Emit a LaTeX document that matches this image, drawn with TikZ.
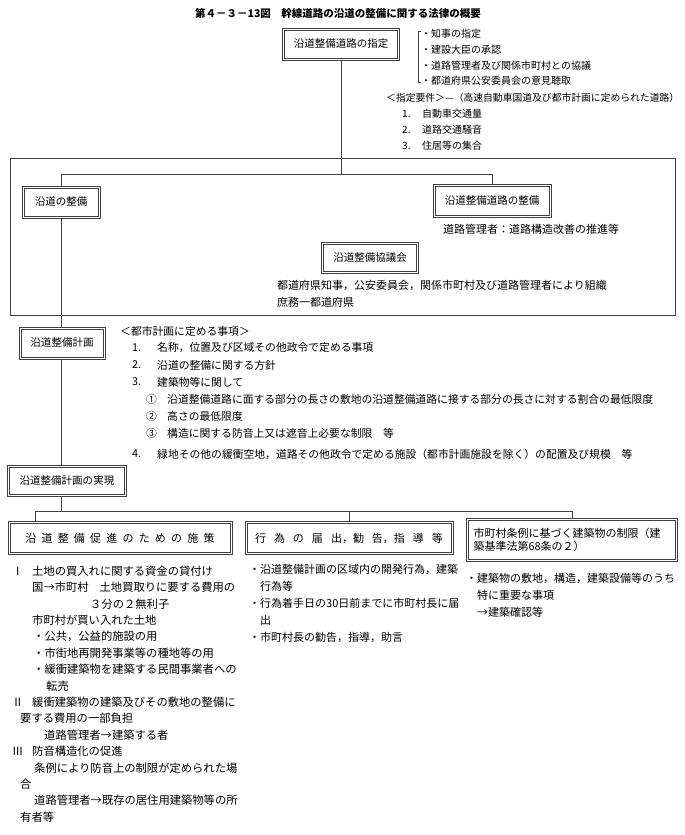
\documentclass[tikz,border=0pt]{standalone}
\usepackage{fontspec}
\setmainfont{Noto Sans CJK JP}
\newcommand\fsz[1]{\fontsize{#1}{#1}\selectfont}
\newcommand\gapj{\hspace{5.2pt}}
\newcommand\gapk{\hspace{8pt}}
\begin{document}
\begin{tikzpicture}[x=1pt,y=-1pt,
  box/.style={draw=black!75, line width=0.6pt, inner sep=0pt, font=\fsz{10.5},
    path picture={\draw[line width=0.6pt, black!75]
      ([shift={(2.2pt,-2.2pt)}]path picture bounding box.north west) rectangle
      ([shift={(-2.2pt,2.2pt)}]path picture bounding box.south east);}},
  t/.style={anchor=west, inner sep=0pt, font=\fsz{10}},
  tm/.style={anchor=west, inner sep=0pt, font=\fsz{10.8}},
  tf/.style={anchor=west, inner sep=0pt, font=\fsz{11}},
  tb/.style={anchor=west, inner sep=0pt, font=\fsz{11.3}},
  ln/.style={line width=0.6pt, draw=black!75}]
\useasboundingbox (0,0) rectangle (685,835);

% title
\node[font=\bfseries\fsz{10.5}, inner sep=0pt] (title) at (338,13) {第４－３－13図\quad 幹線道路の沿道の整備に関する法律の概要};

% top box
\node[box, minimum width=117, minimum height=32] (top) at (341,44) {沿道整備道路の指定};
\draw[ln] (421,31) -- (418,31) -- (418,82) -- (421,82);
\node[t] (b1) at (421,34) {・知事の指定};
\node[t] (b2) at (421,50) {・建設大臣の承認};
\node[t] (b3) at (421,66) {・道路管理者及び関係市町村との協議};
\node[t] (b4) at (421,81) {・都道府県公安委員会の意見聴取};
\node[t, font=\fsz{9.8}] (req) at (386,98) {＜指定要件＞—（高速自動車国道及び都市計画に定められた道路）};
\node[t] (r1n) at (402,114) {1.};
\node[t] (r1) at (422,114) {自動車交通量};
\node[t] (r2n) at (402,130) {2.};
\node[t] (r2) at (422,130) {道路交通騒音};
\node[t] (r3n) at (402,146) {3.};
\node[t] (r3) at (422,146) {住居等の集合};

% frame
\node[draw=black!75, line width=0.6pt, minimum width=665, minimum height=157, inner sep=0pt] (frame) at (342.5,236.5) {};
\coordinate (hj) at (341,174);
\node[box, minimum width=78, minimum height=32] (engan) at (61,202) {沿道の整備};
\node[box, minimum width=118, minimum height=33] (seibi) at (492,201) {沿道整備道路の整備};
\node[tf] (seibiT) at (443,229) {道路管理者：道路構造改善の推進等};
\node[box, minimum width=97, minimum height=31] (kyogi) at (370,258) {沿道整備協議会};
\node[tf] (kyogiT) at (277,285) {都道府県知事，公安委員会，関係市町村及び道路管理者により組織};
\node[tf] (shomu) at (277,302) {庶務一都道府県};
\draw[ln] (top.south) -- (hj);
\draw[ln] (engan.north) -- (engan.north |- hj) -- (seibi.north |- hj) -- (seibi.north);

% plan
\node[box, minimum width=86, minimum height=32] (keikaku) at (62,343) {沿道整備計画};
\draw[ln] (engan.south) -- (engan.south |- keikaku.north);
\node[tm] (cp) at (120,331) {＜都市計画に定める事項＞};
\node[tm] (c1n) at (132,348) {1.};
\node[tm] (c1) at (157,348) {名称，位置及び区域その他政令で定める事項};
\node[tm] (c2n) at (132,365) {2.};
\node[tm] (c2) at (157,365) {沿道の整備に関する方針};
\node[tm] (c3n) at (132,382) {3.};
\node[tm] (c3) at (157,382) {建築物等に関して};
\node[tm] (c31n) at (146,399) {①};
\node[tm] (c31) at (167,399) {沿道整備道路に面する部分の長さの敷地の沿道整備道路に接する部分の長さに対する割合の最低限度};
\node[tm] (c32n) at (146,416) {②};
\node[tm] (c32) at (167,416) {高さの最低限度};
\node[tm] (c33n) at (146,433) {③};
\node[tm] (c33) at (167,433) {構造に関する防音上又は遮音上必要な制限\quad 等};
\node[tm] (c4n) at (132,454) {4.};
\node[tm] (c4) at (157,454) {緑地その他の緩衝空地，道路その他政令で定める施設（都市計画施設を除く）の配置及び規模\quad 等};

% realization
\node[box, minimum width=119, minimum height=31] (jitsu) at (67,481) {沿道整備計画の実現};
\draw[ln] (engan.south |- keikaku.south) -- (engan.south |- jitsu.north);
\coordinate (hb) at (35,511);
\draw[ln] (engan.south |- jitsu.south) -- (engan.south |- hb);

\node[box, minimum width=224, minimum height=33, font=\fsz{11}] (shisaku) at (120,538) {沿\gapj 道\gapj 整\gapj 備\gapj 促\gapj 進\gapj の\gapj た\gapj め\gapj の\gapj 施\gapj 策};
\node[box, minimum width=208, minimum height=33, font=\fsz{11}] (koui) at (349,538) {行\gapk 為\gapk の\gapk 届\gapk 出，勧\gapk 告，指\gapk 導\gapk 等};
\node[box, minimum width=211, minimum height=43, font=\fontsize{11}{13.5}\selectfont, align=left, text width=197] (jourei) at (572,540) {市町村条例に基づく建築物の制限（建\\築基準法第68条の２）};
\draw[ln] (hb) -- (hb -| jourei.north);
\draw[ln] (hb) -- (hb |- shisaku.north);
\draw[ln] (hb -| koui.north) -- (koui.north);
\draw[ln] (hb -| jourei.north) -- (jourei.north);

% left column
\node[tb] (l1r) at (12,571) {Ⅰ};
\node[tb] (l1) at (32,571) {土地の買入れに関する資金の貸付け};
\node[tb] (l2) at (32,587.4) {国→市町村\hspace{11pt}土地買取りに要する費用の};
\node[tb] (l3) at (90,603.8) {３分の２無利子};
\node[tb] (l4) at (32,620.2) {市町村が買い入れた土地};
\node[tb] (l5) at (33,636.6) {・公共，公益的施設の用};
\node[tb] (l6) at (33,653) {・市街地再開発事業等の種地等の用};
\node[tb] (l7) at (33,669.4) {・緩衝建築物を建築する民間事業者への};
\node[tb] (l8) at (46,685.8) {転売};
\node[tb] (l9r) at (12,702.2) {Ⅱ};
\node[tb] (l9) at (32,702.2) {緩衝建築物の建築及びその敷地の整備に};
\node[tb] (l10) at (20,718.6) {要する費用の一部負担};
\node[tb] (l11) at (44,735) {道路管理者→建築する者};
\node[tb] (l12r) at (12,751.4) {Ⅲ};
\node[tb] (l12) at (32,751.4) {防音構造化の促進};
\node[tb] (l13) at (34,767.8) {条例により防音上の制限が定められた場};
\node[tb] (l14) at (20,784.2) {合};
\node[tb] (l15) at (34,800.6) {道路管理者→既存の居住用建築物等の所};
\node[tb] (l16) at (20,817) {有者等};

% middle column
\node[tf] (m1) at (249,569) {・沿道整備計画の区域内の開発行為，建築};
\node[tf] (m2) at (260,586) {行為等};
\node[tf] (m3) at (249,603) {・行為着手日の30日前までに市町村長に届};
\node[tf] (m4) at (260,620) {出};
\node[tf] (m5) at (249,637) {・市町村長の勧告，指導，助言};

% right column
\node[tf] (q1) at (466,578) {・建築物の敷地，構造，建築設備等のうち};
\node[tf] (q2) at (477,595) {特に重要な事項};
\node[tf] (q3) at (477,612) {→建築確認等};
\end{tikzpicture}
\end{document}
